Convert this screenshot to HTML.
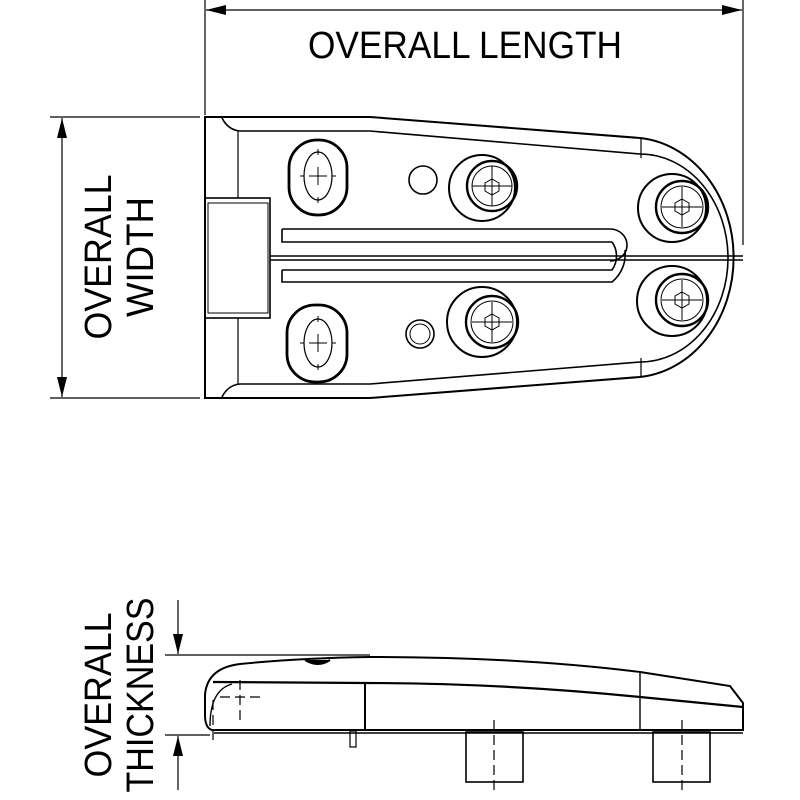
<!DOCTYPE html>
<html><head><meta charset="utf-8"><style>html,body{margin:0;padding:0;background:#fff}svg{display:block}</style></head>
<body>
<svg width="800" height="800" viewBox="0 0 800 800" xmlns="http://www.w3.org/2000/svg" font-family="Liberation Sans, sans-serif">
<defs>
<marker id="a" viewBox="0 0 20 10" refX="20" refY="5" markerWidth="20" markerHeight="10" markerUnits="userSpaceOnUse" orient="auto-start-reverse"><path d="M0,0L20,5L0,10z" fill="#000"/></marker>
</defs>
<g stroke="#000" fill="none" stroke-width="1.2">
<line x1="205" y1="0" x2="205" y2="115"/>
<line x1="743" y1="0" x2="743" y2="245"/>
<line x1="206" y1="10" x2="742" y2="10" marker-start="url(#a)" marker-end="url(#a)"/>
<line x1="50" y1="117" x2="200" y2="117"/>
<line x1="50" y1="398" x2="200" y2="398"/>
<line x1="62" y1="118" x2="62" y2="397" marker-start="url(#a)" marker-end="url(#a)"/>
<line x1="165" y1="655" x2="370" y2="655"/>
<line x1="165" y1="735" x2="210" y2="735"/>
<line x1="178" y1="600" x2="178" y2="654" marker-end="url(#a)"/>
<line x1="178" y1="790" x2="178" y2="736" marker-end="url(#a)"/>
</g>
<g fill="#000" font-size="38">
<text x="465" y="58" text-anchor="middle" textLength="314" lengthAdjust="spacingAndGlyphs">OVERALL LENGTH</text>
<text transform="translate(111,257) rotate(-90)" text-anchor="middle" textLength="165" lengthAdjust="spacingAndGlyphs">OVERALL</text>
<text transform="translate(153,257) rotate(-90)" text-anchor="middle" textLength="120" lengthAdjust="spacingAndGlyphs">WIDTH</text>
<text transform="translate(111,695) rotate(-90)" text-anchor="middle" textLength="165" lengthAdjust="spacingAndGlyphs">OVERALL</text>
<text transform="translate(153,695) rotate(-90)" text-anchor="middle" textLength="195" lengthAdjust="spacingAndGlyphs">THICKNESS</text>
</g>
<g stroke="#000" fill="none" stroke-width="2">
<path d="M205,117 L370,117 L640,138 A103,120 0 0 1 640,377 L370,398 L205,398 Z"/>
<path d="M222,118 Q228,130 240,131 L370,131 L640,154 A88,104 0 0 1 640,362 L370,384 L240,384 Q228,385 222,397" stroke-width="1.6"/>
<line x1="238" y1="131" x2="238" y2="198" stroke-width="1.2"/>
<line x1="238" y1="318" x2="238" y2="384" stroke-width="1.2"/>
<line x1="641" y1="139" x2="641" y2="158" stroke-width="1.2"/>
<line x1="641" y1="358" x2="641" y2="376" stroke-width="1.2"/>
<rect x="205" y="198" width="65" height="120" stroke-width="1.6"/>
<rect x="208" y="203" width="60" height="110" stroke-width="1"/>
<line x1="270" y1="256" x2="743" y2="256" stroke-width="1.4"/>
<line x1="270" y1="260" x2="743" y2="260" stroke-width="1.4"/>
<path d="M282,229 L610,229 A17,16 0 0 1 610,261 M282,229 L282,242 L612,242" stroke-width="1.6"/>
<path d="M282,270 L612,270 A24,24 0 0 0 612,242 M282,270 L282,282 L612,282 A36,36 0 0 0 625,250" stroke-width="1.6"/>
<rect x="289" y="140" width="58" height="75" rx="28" stroke-width="2.8"/>
<ellipse cx="318" cy="176" rx="14" ry="24" stroke-width="1.2"/>
<rect x="287" y="305" width="60" height="77" rx="28" stroke-width="2.8"/>
<ellipse cx="318" cy="343" rx="14" ry="24" stroke-width="1.2"/>
<circle cx="423" cy="180" r="14" stroke-width="1.6"/>
<circle cx="420" cy="334" r="14" stroke-width="1.6"/>
<circle cx="420" cy="334" r="10" stroke-width="1"/>
<g stroke-width="2">
<circle cx="482" cy="188" r="33"/><circle cx="492" cy="186" r="25" stroke-width="2.4"/><circle cx="492" cy="186" r="20" stroke-width="1"/>
<circle cx="482" cy="322" r="35"/><circle cx="492" cy="322" r="26" stroke-width="2.4"/><circle cx="492" cy="322" r="21" stroke-width="1"/>
<circle cx="672" cy="208" r="34"/><circle cx="682" cy="207" r="26" stroke-width="2.4"/><circle cx="682" cy="207" r="21" stroke-width="1"/>
<circle cx="672" cy="301" r="35"/><circle cx="682" cy="300" r="26" stroke-width="2.4"/><circle cx="682" cy="300" r="21" stroke-width="1"/>
</g>
<g stroke-width="1">
<path d="M492,179 l7,4 v8 l-7,4 l-7,-4 v-8z"/><path d="M492,314 l7,4 v8 l-7,4 l-7,-4 v-8z"/>
<path d="M682,199 l7,4 v8 l-7,4 l-7,-4 v-8z"/><path d="M682,292 l7,4 v8 l-7,4 l-7,-4 v-8z"/>
</g>
</g>
<g stroke="#000" stroke-width="1" fill="none">
<path d="M309,176h18M318,167v18M318,149v6M318,197v6M300,176h4M332,176h4"/>
<path d="M309,343h18M318,334v18M318,316v6M318,364v6M300,343h4M332,343h4"/>
<path d="M472,186h40M492,166v40M472,322h40M492,302v40M662,207h40M682,187v40M662,300h40M682,280v40"/>
</g>
<g stroke="#000" fill="none" stroke-width="2">
<path d="M240,664 Q300,658 370,657 Q520,657 640,672 L730,686 L743,703 L743,730 L212,730 Q205,728 205,715 L205,695 Q207,668 240,664 Z"/>
<path d="M213,682 L365,683 Q500,683 640,697 L743,707" stroke-width="2.2"/>
<path d="M210,726 Q210,690 232,684" stroke-width="1.4"/>
<line x1="365" y1="683" x2="365" y2="730"/>
<line x1="640" y1="672" x2="640" y2="730" stroke-width="1.4"/>
<path d="M305,660 Q318,668 330,660" fill="#000"/>
<line x1="214" y1="733" x2="743" y2="733" stroke-width="1.4"/>
<rect x="350" y="731" width="6" height="16" stroke-width="1.2"/>
<rect x="466" y="732" width="57" height="50" stroke-width="1.6"/>
<rect x="653" y="732" width="57" height="50" stroke-width="1.6"/>
</g>
<g stroke="#000" stroke-width="1.2" fill="none" stroke-dasharray="10,5">
<line x1="494" y1="720" x2="494" y2="790"/>
<line x1="682" y1="720" x2="682" y2="790"/>
<line x1="220" y1="697" x2="262" y2="697"/>
<line x1="240" y1="680" x2="240" y2="720"/>
<line x1="213" y1="700" x2="213" y2="745"/>
</g>
</svg>
</body></html>
